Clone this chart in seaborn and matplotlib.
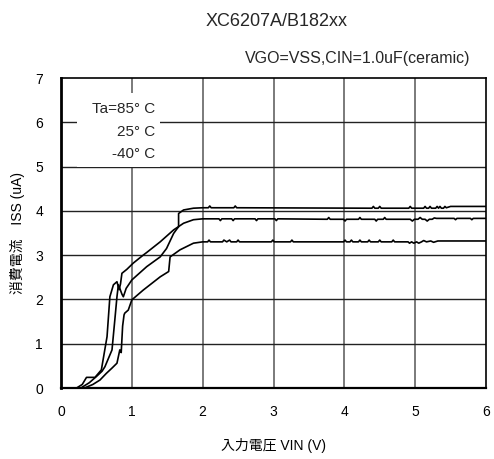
import matplotlib
matplotlib.use("Agg")
import matplotlib.pyplot as plt
import seaborn as sns
import pandas as pd

# Supply current vs input voltage, three ambient temperatures
temps = ["Ta=85° C", "25° C", "-40° C"]

vin_85 = [0.22, 0.30, 0.36, 0.48, 0.57, 0.65, 0.69, 0.74, 0.79, 0.82, 0.84, 0.86,
          0.93, 1.02, 1.16, 1.21, 1.40, 1.59, 1.73, 1.87, 2.00,
          2.23, 2.25, 2.27, 2.41, 2.43, 2.45, 2.74, 2.76, 2.78, 3.02, 3.04, 3.06,
          3.76, 3.78, 3.80, 3.99, 4.01, 4.03, 4.20, 4.22, 4.24, 4.43, 4.45, 4.47,
          4.55, 4.57, 4.59, 4.93, 4.96, 4.99, 5.04, 5.07, 5.10, 5.14, 5.17, 5.20,
          5.24, 5.27, 5.30, 5.55, 5.57, 5.59, 5.78, 5.80, 5.82, 6.00]
iss_85 = [0.00, 0.08, 0.24, 0.24, 0.41, 1.16, 2.06, 2.33, 2.40, 2.22, 2.35, 2.59,
          2.68, 2.82, 3.00, 3.06, 3.30, 3.57, 3.72, 3.80, 3.82,
          3.82, 3.78, 3.82, 3.82, 3.78, 3.82, 3.82, 3.78, 3.82, 3.82, 3.78, 3.82,
          3.81, 3.85, 3.81, 3.81, 3.77, 3.81, 3.81, 3.85, 3.81, 3.81, 3.77, 3.81,
          3.81, 3.85, 3.81, 3.81, 3.77, 3.81, 3.81, 3.85, 3.81, 3.81, 3.77, 3.81,
          3.81, 3.84, 3.83, 3.83, 3.80, 3.83, 3.83, 3.80, 3.83, 3.83]

vin_25 = [0.28, 0.40, 0.50, 0.58, 0.62, 0.72, 0.76, 0.79, 0.81, 0.83, 0.86, 0.88,
          0.92, 1.00, 1.21, 1.40, 1.49, 1.59, 1.64, 1.66, 1.66, 1.73, 1.87, 2.00,
          2.08, 2.10, 2.12, 2.44, 2.46, 2.48, 4.39, 4.41, 4.43, 4.48, 4.50, 4.52,
          4.91, 4.93, 4.95, 5.12, 5.14, 5.16, 5.19, 5.21, 5.23, 5.29, 5.31, 5.33,
          5.35, 5.37, 5.40, 5.42, 5.44, 5.50, 6.00]
iss_25 = [0.00, 0.12, 0.26, 0.38, 0.48, 0.86, 1.54, 2.06, 2.33, 2.25, 2.12, 2.06,
          2.25, 2.44, 2.74, 2.96, 3.15, 3.49, 3.60, 3.64, 3.94, 4.02, 4.06, 4.07,
          4.07, 4.11, 4.07, 4.07, 4.11, 4.07, 4.06, 4.10, 4.06, 4.06, 4.10, 4.06,
          4.06, 4.10, 4.06, 4.06, 4.10, 4.06, 4.06, 4.10, 4.06, 4.06, 4.10, 4.06,
          4.10, 4.06, 4.06, 4.10, 4.07, 4.10, 4.10]

vin_m40 = [0.33, 0.45, 0.55, 0.64, 0.72, 0.79, 0.83, 0.85, 0.87, 0.89, 0.90, 0.95,
           1.00, 1.16, 1.40, 1.52, 1.54, 1.68, 1.87, 2.00,
           2.07, 2.09, 2.11, 2.28, 2.30, 2.34, 2.38, 2.40, 2.48, 2.50, 2.52,
           2.97, 2.99, 3.01, 3.24, 3.26, 3.28, 3.99, 4.01, 4.03, 4.08, 4.10, 4.12,
           4.20, 4.22, 4.24, 4.33, 4.35, 4.37, 4.48, 4.50, 4.52, 4.67, 4.69, 4.71,
           4.90, 4.92, 4.95, 4.98, 5.02, 5.05, 5.09, 5.12, 5.16, 5.22, 5.26, 5.32,
           5.40, 6.00]
iss_m40 = [0.00, 0.08, 0.18, 0.33, 0.45, 0.56, 0.86, 0.80, 1.40, 1.65, 1.69, 1.76,
           1.99, 2.21, 2.51, 2.63, 2.96, 3.12, 3.27, 3.30,
           3.30, 3.34, 3.30, 3.30, 3.34, 3.30, 3.34, 3.30, 3.30, 3.34, 3.30,
           3.30, 3.34, 3.30, 3.30, 3.34, 3.30, 3.30, 3.34, 3.30, 3.30, 3.34, 3.30,
           3.30, 3.34, 3.30, 3.30, 3.34, 3.30, 3.30, 3.34, 3.30, 3.30, 3.34, 3.30,
           3.30, 3.27, 3.30, 3.27, 3.30, 3.27, 3.30, 3.33, 3.30, 3.32, 3.29, 3.32,
           3.32, 3.32]

x_ticks = [0, 1, 2, 3, 4, 5, 6]
y_ticks = [0, 1, 2, 3, 4, 5, 6, 7]

title = "XC6207A/B182xx"
condition = "VGO=VSS,CIN=1.0uF(ceramic)"
x_label = "入力電圧 VIN (V)"
y_label = "消費電流　ISS (uA)"

frames = []
for name, xs, ys in zip(temps, [vin_85, vin_25, vin_m40], [iss_85, iss_25, iss_m40]):
    frames.append(pd.DataFrame({"VIN": xs, "ISS": ys, "Temp": name}))
df = pd.concat(frames, ignore_index=True)

sns.set_theme(style="white")
fonts = ["Liberation Sans", "Noto Sans CJK JP", "DejaVu Sans"]
plt.rcParams["font.family"] = fonts

fig = plt.figure(figsize=(4.94, 4.59), dpi=100)
ax = fig.add_axes([61 / 494, 1 - 388 / 459, 425 / 494, 310 / 459])

# grid: gray verticals, dark horizontals
for xv in x_ticks[1:-1]:
    ax.axvline(xv, color="#7a7a7a", lw=1.4, zorder=1)
for yv in y_ticks[1:-1]:
    ax.axhline(yv, color="#222222", lw=1.0, zorder=1)

sns.lineplot(data=df, x="VIN", y="ISS", hue="Temp", estimator=None, sort=False,
             palette=["black"] * 3, lw=1.2, legend=False, ax=ax, zorder=3)

ax.set_xlim(0, 6)
ax.set_ylim(0, 7)
ax.set_xticks(x_ticks)
ax.set_yticks(y_ticks)
ax.tick_params(axis="both", length=0, labelsize=10, colors="black")
ax.tick_params(axis="y", pad=13)
ax.tick_params(axis="x", pad=12)
ax.set_xlabel(x_label, fontsize=10, labelpad=14, color="black")
ax.set_ylabel(y_label, fontsize=10, labelpad=7, color="black")

for side, w in [("left", 2.0), ("bottom", 1.6), ("top", 1.2), ("right", 1.2)]:
    ax.spines[side].set_visible(True)
    ax.spines[side].set_color("black")
    ax.spines[side].set_linewidth(w)
    ax.spines[side].set_zorder(5)

# temperature labels on a white patch over the grid
ax.add_patch(plt.Rectangle((16 / 425, 1 - 89 / 310), 83 / 425, 74 / 310,
                           transform=ax.transAxes, facecolor="white",
                           edgecolor="none", zorder=2))
for i, name in enumerate(temps):
    ax.text(94 / 425, 1 - (31 + 22.5 * i) / 310, name, transform=ax.transAxes,
            ha="right", va="center", fontsize=11, zorder=4)

fig.text(277 / 494, 1 - 21 / 459, title, ha="center", va="center", fontsize=13)
fig.text(470 / 494, 1 - 58 / 459, condition, ha="right", va="center", fontsize=11.5)

fig.savefig("out.png", dpi=100)
